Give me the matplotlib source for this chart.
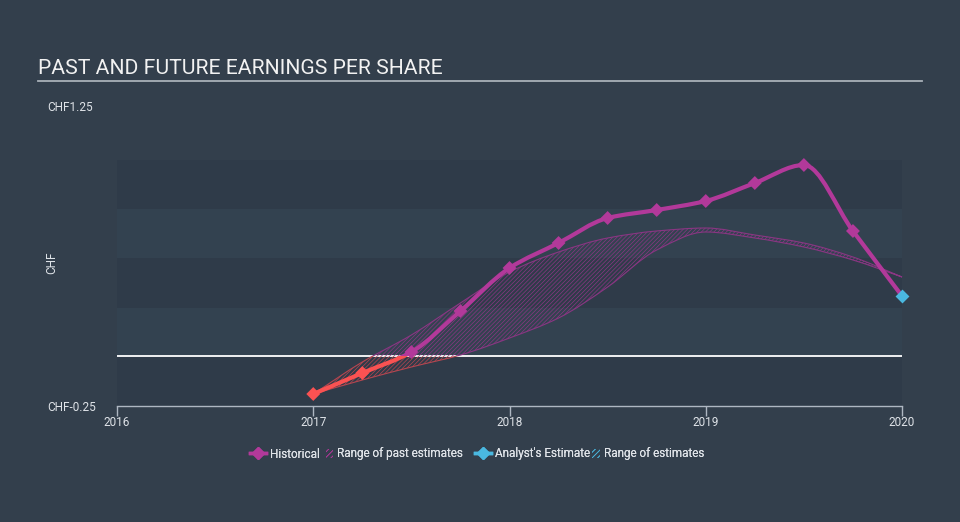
import numpy as np
import matplotlib
matplotlib.use("Agg")
import matplotlib.pyplot as plt
from matplotlib.path import Path
from matplotlib.patches import PathPatch, Rectangle, Patch
from matplotlib.lines import Line2D

# quarterly dates and EPS (CHF)
dates = [2017.0, 2017.25, 2017.5, 2017.75, 2018.0, 2018.25, 2018.5,
         2018.75, 2019.0, 2019.25, 2019.5, 2019.75, 2020.0]
eps_hist = [-0.19, -0.085, 0.02, 0.225, 0.44, 0.565, 0.69,
            0.73, 0.775, 0.865, 0.955, 0.625, 0.30]
past_est_high = [-0.19, -0.03, 0.105, 0.265, 0.42, 0.52, 0.59,
                 0.625, 0.64, 0.605, 0.565, 0.495, 0.395]
past_est_low = [-0.19, -0.12, -0.055, 0.005, 0.09, 0.19, 0.345,
                0.53, 0.62, 0.59, 0.545, 0.48, 0.395]
analyst_date = [2020.0]
analyst_eps = [0.30]

year_ticks = [2016, 2017, 2018, 2019, 2020]
y_ticks = [-0.25, 1.25]
y_ticklabels = ["CHF-0.25", "CHF1.25"]
band_edges = [-0.25, 0.0, 0.24, 0.49, 0.735, 0.98]

BG = "#333f4c"
BAND_DARK = "#2f3b49"
BAND_LIGHT = "#334250"
MAG = "#b2399a"
RED = "#fa5252"
CYAN = "#4ab8e0"
TXT = "#dfe3e8"
MAG_HATCH = "#8a3683"
RED_HATCH = "#b54650"

plt.rcParams["font.family"] = ["Roboto", "DejaVu Sans"]
plt.rcParams["hatch.linewidth"] = 0.5


def smooth_verts(xs, ys):
    # monotone cubic tangents, drawn as bezier segments
    xs = np.asarray(xs, float)
    ys = np.asarray(ys, float)
    h = np.diff(xs)
    d = np.diff(ys) / h
    m = np.zeros_like(ys)
    m[0], m[-1] = d[0], d[-1]
    for i in range(1, len(xs) - 1):
        if d[i - 1] * d[i] <= 0:
            m[i] = 0
        else:
            w1 = 2 * h[i] + h[i - 1]
            w2 = h[i] + 2 * h[i - 1]
            m[i] = (w1 + w2) / (w1 / d[i - 1] + w2 / d[i])
    verts = [(xs[0], ys[0])]
    for i in range(len(h)):
        verts.append((xs[i] + h[i] / 3, ys[i] + m[i] * h[i] / 3))
        verts.append((xs[i + 1] - h[i] / 3, ys[i + 1] - m[i + 1] * h[i] / 3))
        verts.append((xs[i + 1], ys[i + 1]))
    return verts


def curve_path(xs, ys):
    v = smooth_verts(xs, ys)
    codes = [Path.MOVETO] + [Path.CURVE4] * (len(v) - 1)
    return Path(v, codes)


def band_path(xs, hi, lo):
    vu = smooth_verts(xs, hi)
    vl = smooth_verts(xs, lo)[::-1]
    verts = vu + vl + [vu[0]]
    codes = ([Path.MOVETO] + [Path.CURVE4] * (len(vu) - 1)
             + [Path.LINETO] + [Path.CURVE4] * (len(vl) - 1) + [Path.CLOSEPOLY])
    return Path(verts, codes)


fig = plt.figure(figsize=(9.6, 5.22), dpi=100, facecolor=BG)
ax = fig.add_axes([117 / 960, 1 - 406 / 522, 785 / 960, 300 / 522])
ax.set_facecolor("none")
ax.set_xlim(2016, 2020)
ax.set_ylim(-0.25, 1.25)

for i in range(len(band_edges) - 1):
    ax.axhspan(band_edges[i], band_edges[i + 1], color=BAND_DARK if i % 2 == 0 else BAND_LIGHT,
               lw=0, zorder=0)
ax.axhline(0, color="white", lw=1.3, zorder=1)

neg = Rectangle((2015, -1), 6, 1, transform=ax.transData)
pos = Rectangle((2015, 0), 6, 2, transform=ax.transData)

# range of past estimates
for col, clip in [(RED_HATCH, neg), (MAG_HATCH, pos)]:
    p = PathPatch(band_path(dates, past_est_high, past_est_low), facecolor="none",
                  edgecolor=col, hatch="////////", lw=0.8, zorder=2)
    ax.add_patch(p)
    p.set_clip_path(clip)

# historical line
for col, clip in [(RED, neg), (MAG, pos)]:
    p = PathPatch(curve_path(dates, eps_hist), facecolor="none", edgecolor=col,
                  lw=3, capstyle="round", joinstyle="round", zorder=3)
    ax.add_patch(p)
    p.set_clip_path(clip)

hist_x = dates[:-1]
hist_y = eps_hist[:-1]
mcols = [RED if v < 0 else MAG for v in hist_y]
ax.scatter(hist_x, hist_y, marker="D", s=50, c=mcols, lw=0, zorder=4)
ax.scatter(analyst_date, analyst_eps, marker="D", s=50, c=CYAN, lw=0, zorder=5, clip_on=False)

for s in ["top", "right", "left"]:
    ax.spines[s].set_visible(False)
ax.spines["bottom"].set_color("#aeb7c2")
ax.spines["bottom"].set_linewidth(1)
ax.set_xticks(year_ticks)
ax.set_xticklabels([str(y) for y in year_ticks])
ax.tick_params(axis="x", colors="#aeb7c2", labelcolor=TXT, labelsize=8.5,
               length=7, width=1, pad=0)
ax.set_yticks(y_ticks)
ax.set_yticklabels(y_ticklabels)
ax.tick_params(axis="y", length=0, labelcolor=TXT, labelsize=8.5, pad=50)
for lbl in ax.get_yticklabels():
    lbl.set_ha("left")

fig.text(52 / 960, 1 - 263 / 522, "CHF", rotation=90, color=TXT, fontsize=8.5,
         ha="center", va="center")

fig.text(38 / 960, 1 - 68 / 522, "PAST AND FUTURE EARNINGS PER SHARE", color="#f2f2f2",
         fontsize=15.2, ha="left", va="center")
fig.add_artist(Line2D([38 / 960, 922 / 960], [1 - 81 / 522] * 2, color="#a9b0b8", lw=1.3))

# legend: one entry per legend so each handle gets its own width
legend_items = [
    (Line2D([], [], color=MAG, marker="D", lw=2.5, markersize=6.5), "Historical", 250, 1.35),
    (Patch(facecolor="none", edgecolor=MAG, hatch="//////", lw=0), "Range of past estimates", 326, 0.6),
    (Line2D([], [], color=CYAN, marker="D", lw=2.5, markersize=6.5), "Analyst's Estimate", 475, 1.35),
    (Patch(facecolor="none", edgecolor=CYAN, hatch="//////", lw=0), "Range of estimates", 592, 0.7),
]
for handle, label, x0, hl in legend_items:
    leg = fig.legend([handle], [label], frameon=False, loc="center left",
                     bbox_to_anchor=(x0 / 960, 1 - 454 / 522), borderpad=0, borderaxespad=0,
                     handlelength=hl, handletextpad=0.35, labelcolor=TXT, fontsize=8.5)
    fig.add_artist(leg)

fig.savefig("out.png", dpi=100, facecolor=BG)
